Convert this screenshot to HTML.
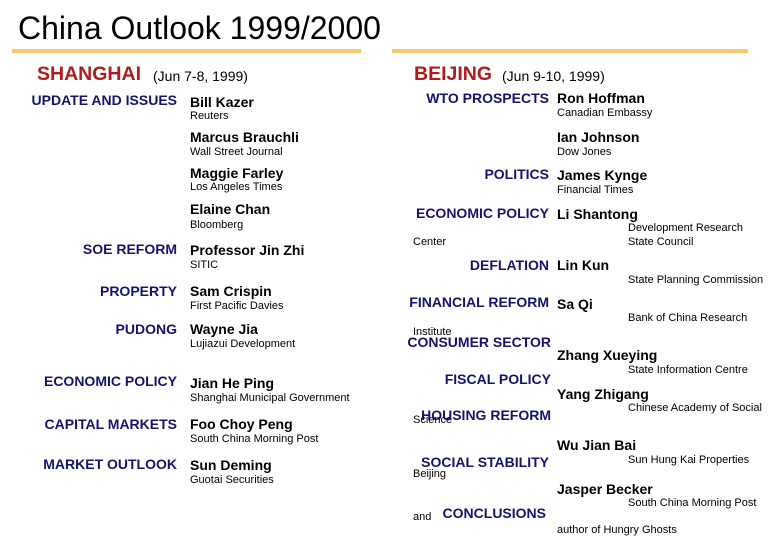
<!DOCTYPE html>
<html><head><meta charset="utf-8"><style>
body{margin:0;width:780px;height:540px;background:#fff;position:relative;overflow:hidden;font-family:"Liberation Sans",Arial,sans-serif}
div{position:absolute;white-space:nowrap;line-height:1}
.l{color:#14146e;font-weight:bold;font-size:14px;text-align:right}
.n{color:#000;font-weight:bold;font-size:14px}
.a{color:#000;font-size:11px}
.h{color:#b01c1c;font-weight:bold;font-size:19.5px}
.d{font-size:14px;color:#000}
.bar{background:#f8c86a;height:4px}
</style></head><body>
<div style="left:18px;top:12px;font-size:32px;">China Outlook 1999/2000</div>
<div class="bar" style="left:12px;top:49px;width:349px"></div>
<div class="bar" style="left:392px;top:49px;width:356px"></div>

<div class="h" style="left:37px;top:65px">SHANGHAI</div>
<div class="d" style="left:153px;top:69px">(Jun 7-8, 1999)</div>
<div class="h" style="left:414px;top:65px">BEIJING</div>
<div class="d" style="left:502px;top:69px">(Jun 9-10, 1999)</div>

<div class="l" style="right:603px;top:93px">UPDATE AND ISSUES</div>
<div class="l" style="right:603px;top:242px">SOE REFORM</div>
<div class="l" style="right:603px;top:284px">PROPERTY</div>
<div class="l" style="right:603px;top:322px">PUDONG</div>
<div class="l" style="right:603px;top:374px">ECONOMIC POLICY</div>
<div class="l" style="right:603px;top:417px">CAPITAL MARKETS</div>
<div class="l" style="right:603px;top:457px">MARKET OUTLOOK</div>

<div class="n" style="left:190px;top:95px">Bill Kazer</div>
<div class="n" style="left:190px;top:130px">Marcus Brauchli</div>
<div class="n" style="left:190px;top:166px">Maggie Farley</div>
<div class="n" style="left:190px;top:202px">Elaine Chan</div>
<div class="n" style="left:190px;top:243px">Professor Jin Zhi</div>
<div class="n" style="left:190px;top:284px">Sam Crispin</div>
<div class="n" style="left:190px;top:322px">Wayne Jia</div>
<div class="n" style="left:190px;top:376px">Jian He Ping</div>
<div class="n" style="left:190px;top:417px">Foo Choy Peng</div>
<div class="n" style="left:190px;top:458px">Sun Deming</div>

<div class="a" style="left:190px;top:111px">Reuters</div>
<div class="a" style="left:190px;top:147px">Wall Street Journal</div>
<div class="a" style="left:190px;top:182px">Los Angeles Times</div>
<div class="a" style="left:190px;top:220px">Bloomberg</div>
<div class="a" style="left:190px;top:260px">SITIC</div>
<div class="a" style="left:190px;top:301px">First Pacific Davies</div>
<div class="a" style="left:190px;top:339px">Lujiazui  Development</div>
<div class="a" style="left:190px;top:393px">Shanghai Municipal Government</div>
<div class="a" style="left:190px;top:434px">South China Morning Post</div>
<div class="a" style="left:190px;top:475px">Guotai Securities</div>

<div class="l" style="right:231px;top:91px">WTO PROSPECTS</div>
<div class="l" style="right:231px;top:167px">POLITICS</div>
<div class="l" style="right:231px;top:206px">ECONOMIC POLICY</div>
<div class="l" style="right:231px;top:258px">DEFLATION</div>
<div class="l" style="right:231px;top:295px">FINANCIAL REFORM</div>
<div class="l" style="right:229px;top:335px">CONSUMER SECTOR</div>
<div class="l" style="right:229px;top:372px">FISCAL POLICY</div>
<div class="l" style="right:229px;top:408px">HOUSING REFORM</div>
<div class="l" style="right:231px;top:455px">SOCIAL STABILITY</div>
<div class="l" style="right:234px;top:506px">CONCLUSIONS</div>

<div class="a" style="left:413px;top:237px">Center</div>
<div class="a" style="left:413px;top:327px">Institute</div>
<div class="a" style="left:413px;top:415px">Science</div>
<div class="a" style="left:413px;top:469px">Beijing</div>
<div class="a" style="left:413px;top:512px">and</div>

<div class="n" style="left:557px;top:91px">Ron Hoffman</div>
<div class="n" style="left:557px;top:130px">Ian Johnson</div>
<div class="n" style="left:557px;top:168px">James Kynge</div>
<div class="n" style="left:557px;top:207px">Li Shantong</div>
<div class="n" style="left:557px;top:258px">Lin Kun</div>
<div class="n" style="left:557px;top:297px">Sa Qi</div>
<div class="n" style="left:557px;top:348px">Zhang Xueying</div>
<div class="n" style="left:557px;top:387px">Yang Zhigang</div>
<div class="n" style="left:557px;top:438px">Wu Jian Bai</div>
<div class="n" style="left:557px;top:482px">Jasper Becker</div>

<div class="a" style="left:557px;top:108px">Canadian Embassy</div>
<div class="a" style="left:557px;top:147px">Dow Jones</div>
<div class="a" style="left:557px;top:185px">Financial Times</div>
<div class="a" style="left:628px;top:223px">Development Research</div>
<div class="a" style="left:628px;top:237px">State Council</div>
<div class="a" style="left:628px;top:275px">State Planning Commission</div>
<div class="a" style="left:628px;top:313px">Bank of China Research</div>
<div class="a" style="left:628px;top:365px">State Information Centre</div>
<div class="a" style="left:628px;top:403px">Chinese Academy of Social</div>
<div class="a" style="left:628px;top:455px">Sun Hung Kai Properties</div>
<div class="a" style="left:628px;top:498px">South China Morning Post</div>
<div class="a" style="left:557px;top:525px">author of Hungry Ghosts</div>
</body></html>
